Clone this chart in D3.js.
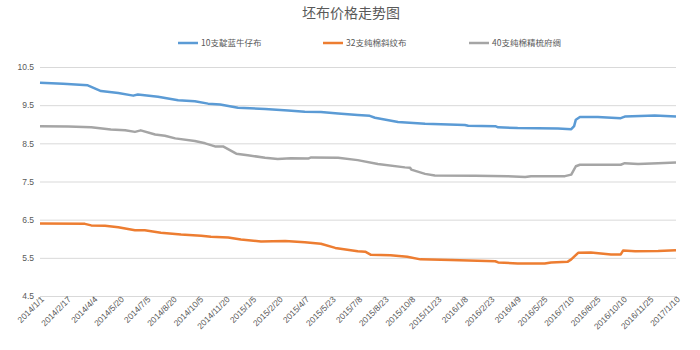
<!DOCTYPE html>
<html>
<head>
<meta charset="utf-8">
<script src="https://cdn.jsdelivr.net/npm/d3@7"></script>
<style>
  html, body { margin: 0; padding: 0; background: #fff; }
  svg { display: block; font-family: "Noto Sans CJK SC", "Microsoft YaHei", sans-serif; }
</style>
</head>
<body>
<svg id="chart" width="700" height="350"></svg>
<script>
// 坯布价格走势图 — three grey-cloth price series
const chartTitle = "坯布价格走势图";
const seriesNames = ["10支靛蓝牛仔布", "32支纯棉斜纹布", "40支纯棉精梳府绸"];
const seriesColors = ["#5B9BD5", "#ED7D31", "#A5A5A5"];

const denimSeries = [
  ["2014-01-01", 10.09], ["2014-02-10", 10.06], ["2014-03-25", 10.02], ["2014-04-17", 9.87],
  ["2014-05-17", 9.82], ["2014-06-12", 9.75], ["2014-06-20", 9.78], ["2014-07-25", 9.72],
  ["2014-08-29", 9.63], ["2014-09-27", 9.60], ["2014-10-20", 9.54], ["2014-11-10", 9.52],
  ["2014-12-11", 9.43], ["2015-01-27", 9.40], ["2015-03-08", 9.36], ["2015-04-06", 9.33],
  ["2015-05-04", 9.32], ["2015-06-03", 9.28], ["2015-07-07", 9.24], ["2015-07-28", 9.22],
  ["2015-08-06", 9.17], ["2015-09-15", 9.06], ["2015-11-01", 9.01], ["2016-01-09", 8.98],
  ["2016-01-15", 8.96], ["2016-03-02", 8.95], ["2016-03-07", 8.92], ["2016-04-10", 8.90],
  ["2016-06-19", 8.89], ["2016-07-12", 8.87], ["2016-07-17", 8.95], ["2016-07-20", 9.12],
  ["2016-07-27", 9.19], ["2016-08-27", 9.19], ["2016-10-06", 9.16], ["2016-10-13", 9.20],
  ["2016-11-22", 9.22], ["2016-12-04", 9.23], ["2017-01-10", 9.20]
];

const twillSeries = [
  ["2014-01-01", 6.40], ["2014-03-20", 6.39], ["2014-03-31", 6.35], ["2014-04-24", 6.34],
  ["2014-05-17", 6.30], ["2014-06-15", 6.22], ["2014-07-02", 6.22], ["2014-07-30", 6.16],
  ["2014-09-03", 6.11], ["2014-10-08", 6.08], ["2014-10-25", 6.05], ["2014-11-24", 6.03],
  ["2014-12-16", 5.98], ["2015-01-20", 5.93], ["2015-03-03", 5.94], ["2015-04-06", 5.91],
  ["2015-05-04", 5.87], ["2015-05-29", 5.76], ["2015-07-07", 5.67], ["2015-07-20", 5.66],
  ["2015-07-30", 5.58], ["2015-09-02", 5.57], ["2015-10-01", 5.53], ["2015-10-24", 5.46],
  ["2015-12-16", 5.44], ["2016-03-02", 5.41], ["2016-03-07", 5.38], ["2016-04-10", 5.35],
  ["2016-05-27", 5.35], ["2016-06-07", 5.38], ["2016-07-06", 5.40], ["2016-07-12", 5.46],
  ["2016-07-24", 5.63], ["2016-08-15", 5.64], ["2016-09-19", 5.59], ["2016-10-06", 5.59],
  ["2016-10-10", 5.69], ["2016-10-31", 5.67], ["2016-12-10", 5.68], ["2017-01-10", 5.70]
];

const poplinSeries = [
  ["2014-01-01", 8.95], ["2014-02-19", 8.94], ["2014-03-31", 8.92], ["2014-05-04", 8.86],
  ["2014-05-29", 8.84], ["2014-06-15", 8.80], ["2014-06-25", 8.84], ["2014-07-20", 8.73],
  ["2014-08-06", 8.70], ["2014-08-24", 8.63], ["2014-09-27", 8.56], ["2014-10-15", 8.50],
  ["2014-11-01", 8.42], ["2014-11-15", 8.42], ["2014-12-08", 8.23], ["2014-12-28", 8.19],
  ["2015-01-27", 8.12], ["2015-02-18", 8.09], ["2015-03-13", 8.11], ["2015-04-12", 8.10],
  ["2015-04-17", 8.13], ["2015-06-03", 8.12], ["2015-07-07", 8.06], ["2015-08-11", 7.96],
  ["2015-09-27", 7.87], ["2015-10-06", 7.86], ["2015-10-08", 7.81], ["2015-11-01", 7.70],
  ["2015-11-18", 7.66], ["2016-01-27", 7.65], ["2016-03-24", 7.64], ["2016-04-23", 7.62],
  ["2016-05-03", 7.64], ["2016-07-01", 7.64], ["2016-07-12", 7.68], ["2016-07-20", 7.90],
  ["2016-07-27", 7.94], ["2016-10-06", 7.94], ["2016-10-13", 7.98], ["2016-11-05", 7.96],
  ["2016-12-10", 7.98], ["2017-01-10", 8.00]
];

const yTicks = [4.5, 5.5, 6.5, 7.5, 8.5, 9.5, 10.5];
const xTickLabels = [
  "2014/1/1", "2014/2/17", "2014/4/4", "2014/5/20", "2014/7/5", "2014/8/20", "2014/10/5",
  "2014/11/20", "2015/1/5", "2015/2/20", "2015/4/7", "2015/5/23", "2015/7/8", "2015/8/23",
  "2015/10/8", "2015/11/23", "2016/1/8", "2016/2/23", "2016/4/9", "2016/5/25", "2016/7/10",
  "2016/8/25", "2016/10/10", "2016/11/25", "2017/1/10"
];

const allSeries = [denimSeries, twillSeries, poplinSeries];

const parse = d3.timeParse("%Y-%m-%d");
const parseLabel = d3.timeParse("%Y/%m/%d");

const svg = d3.select("#chart");
const plot = { left: 40, right: 676, top: 67, bottom: 296 };

const x = d3.scaleTime()
  .domain([parse("2014-01-01"), parse("2017-01-10")])
  .range([plot.left, plot.right]);
const y = d3.scaleLinear()
  .domain([4.5, 10.5])
  .range([plot.bottom, plot.top]);

// title
svg.append("text")
  .attr("x", 351).attr("y", 18)
  .attr("text-anchor", "middle")
  .attr("font-size", 14)
  .attr("fill", "#595959")
  .text(chartTitle);

// horizontal grid + y labels
const yAxis = d3.axisLeft(y).tickValues(yTicks)
  .tickFormat(d3.format(".1f"))
  .tickSize(-(plot.right - plot.left)).tickPadding(6);
const gy = svg.append("g").attr("transform", `translate(${plot.left},0)`).call(yAxis);
gy.select(".domain").remove();
gy.selectAll(".tick line").attr("stroke", "#D9D9D9").attr("stroke-width", 1);
gy.selectAll(".tick text").attr("fill", "#595959").attr("font-size", 8.5)
  .attr("font-family", "Liberation Sans, Arial, sans-serif");

// x axis with rotated date labels
const xAxis = d3.axisBottom(x)
  .tickValues(xTickLabels.map(s => parseLabel(s)))
  .tickFormat((d, i) => xTickLabels[i])
  .tickSize(4).tickSizeOuter(0);
const gx = svg.append("g").attr("transform", `translate(0,${plot.bottom})`).call(xAxis);
gx.select(".domain").attr("stroke", "#D9D9D9");
gx.selectAll(".tick line").attr("stroke", "#D9D9D9");
gx.selectAll(".tick text")
  .attr("fill", "#595959").attr("font-size", 8.5)
  .attr("font-family", "Liberation Sans, Arial, sans-serif")
  .attr("text-anchor", "end")
  .attr("dy", null)
  .attr("transform", "translate(4,4) rotate(-45)")
  .attr("x", 0).attr("y", 0);

// series lines
const line = d3.line()
  .x(d => x(parse(d[0])))
  .y(d => y(d[1]));

allSeries.forEach((s, i) => {
  svg.append("path")
    .datum(s)
    .attr("fill", "none")
    .attr("stroke", seriesColors[i])
    .attr("stroke-width", 2.5)
    .attr("stroke-linejoin", "round")
    .attr("d", line);
});

// legend
const legendX = [178, 323, 469];
seriesNames.forEach((name, i) => {
  const g = svg.append("g").attr("transform", `translate(${legendX[i]},43)`);
  g.append("line").attr("x1", 0).attr("x2", 20).attr("y1", 0).attr("y2", 0)
    .attr("stroke", seriesColors[i]).attr("stroke-width", 2.5);
  g.append("text").attr("x", 23).attr("y", 3)
    .attr("font-size", 8.5).attr("fill", "#595959")
    .text(name);
});
</script>
</body>
</html>
